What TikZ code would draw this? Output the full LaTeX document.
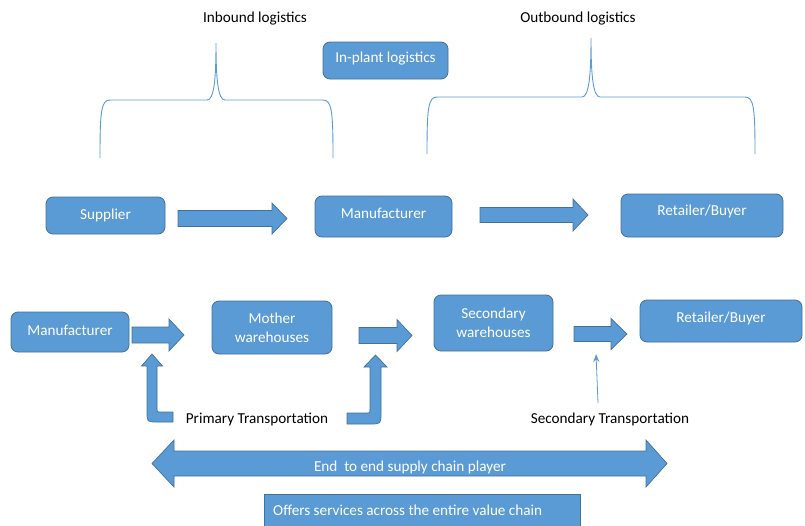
\documentclass[tikz,border=0pt]{standalone}
\usepackage{fontspec}
\setmainfont{Carlito}
\usetikzlibrary{arrows.meta}
\definecolor{boxc}{HTML}{5B9BD5}
\definecolor{edgec}{HTML}{41719C}
\newcommand\blkarrow[6]{\filldraw[blk] (#1,{#4-#5}) -- (#2,{#4-#5}) -- (#2,{#4-#6}) -- (#3,#4) -- (#2,{#4+#6}) -- (#2,{#4+#5}) -- (#1,{#4+#5}) -- cycle;}
\newcommand\liftup[2]{\raisebox{#1}[\height][\depth]{#2}}
\tikzset{
  every node/.style={font=\fontsize{15.2}{19}\selectfont},
  box/.style={draw=edgec, fill=boxc, rounded corners=7pt, text=white, inner sep=0pt, align=center, line width=0.8pt},
  blk/.style={draw=edgec, fill=boxc, line width=0.7pt, line join=miter},
  brace/.style={draw=boxc, line width=0.9pt},
  lbl/.style={text=black, inner sep=0pt},
}
\begin{document}
\begin{tikzpicture}[x=1pt,y=-1pt]
\useasboundingbox (0,0) rectangle (805,525);
% headers
\node[lbl] (inb) at (255,19) {Inbound logistics};
\node[lbl] (outb) at (578,19) {Outbound logistics};
\node[box, minimum width=125pt, minimum height=37pt] (inplant) at (385.5,60.5) {\liftup{2pt}{In-plant logistics}};
% braces
\draw[brace] (100,158) .. controls (100,112) and (101,100) .. (110,100) -- (207,100)
  .. controls (214,100) and (216,80) .. (216,43)
  .. controls (216,80) and (218,100) .. (225,100) -- (323,100)
  .. controls (332,100) and (333,112) .. (333,158);
\draw[brace] (427,154) .. controls (427,109) and (428,97) .. (437,97) -- (582,97)
  .. controls (589,97) and (591,75) .. (591,38)
  .. controls (591,75) and (593,97) .. (600,97) -- (745,97)
  .. controls (754,97) and (755,109) .. (755,154);
% row 1
\node[box, minimum width=119pt, minimum height=37pt] (sup) at (105.5,215.5) {Supplier};
\node[box, minimum width=137pt, minimum height=41pt] (man1) at (383.5,216.5) {\liftup{3pt}{Manufacturer}};
\node[box, minimum width=162pt, minimum height=43pt] (ret1) at (702,215.5) {\liftup{4pt}{Retailer/Buyer}};
\blkarrow{178}{272}{287}{218.5}{8}{15.5}
\blkarrow{480}{573}{588}{215}{7.5}{16}
% row 2
\node[box, minimum width=118pt, minimum height=40pt] (man2) at (70,332) {\liftup{2pt}{Manufacturer}};
\node[box, minimum width=120pt, minimum height=53pt] (moth) at (272,327.5) {Mother\\warehouses};
\node[box, minimum width=119pt, minimum height=56pt] (sec) at (493.5,323) {Secondary\\warehouses};
\node[box, minimum width=162pt, minimum height=42pt] (ret2) at (721,321) {\liftup{3pt}{Retailer/Buyer}};
\blkarrow{132}{169}{184}{335}{8}{16}
\blkarrow{359}{397}{412}{335.5}{8}{16}
\blkarrow{574}{611}{627}{334}{7.5}{15.5}
% bent-up arrows
\filldraw[blk] (173,412) -- (161,412) .. controls (157,412) .. (157,408) -- (157,366) -- (162.5,366)
  -- (152,354) -- (141.5,366) -- (147,366) -- (147,412) .. controls (147,422) .. (157,422) -- (173,422) -- cycle;
\filldraw[blk] (347,413) -- (366,413) .. controls (370,413) .. (370,409) -- (370,367) -- (364,367)
  -- (375.5,355) -- (387,367) -- (381,367) -- (381,413) .. controls (381,424) .. (370,424) -- (347,424) -- cycle;
\node[lbl] (prim) at (257,419) {Primary Transportation};
% secondary transportation
\node[lbl] (sect) at (610,419) {Secondary Transportation};
\coordinate (stail) at (598,403);
\coordinate (shead) at (596,354);
\draw[draw=boxc, line width=0.8pt, -{Stealth[length=8pt,width=6pt]}] (stail) -- (shead);
% double arrow
\filldraw[blk] (152,463.5) -- (174,440) -- (174,451) -- (646,451) -- (646,440) -- (667,463.5)
  -- (646,487) -- (646,476) -- (174,476) -- (174,487) -- cycle;
\node[lbl, text=white] (e2e) at (410,467) {End\ \ to end supply chain player};
% offers box
\filldraw[blk] (264,494) rectangle (580,530);
\node[lbl, text=white, anchor=west] (offers) at (273,510) {Offers services across the entire value chain};
\end{tikzpicture}
\end{document}
